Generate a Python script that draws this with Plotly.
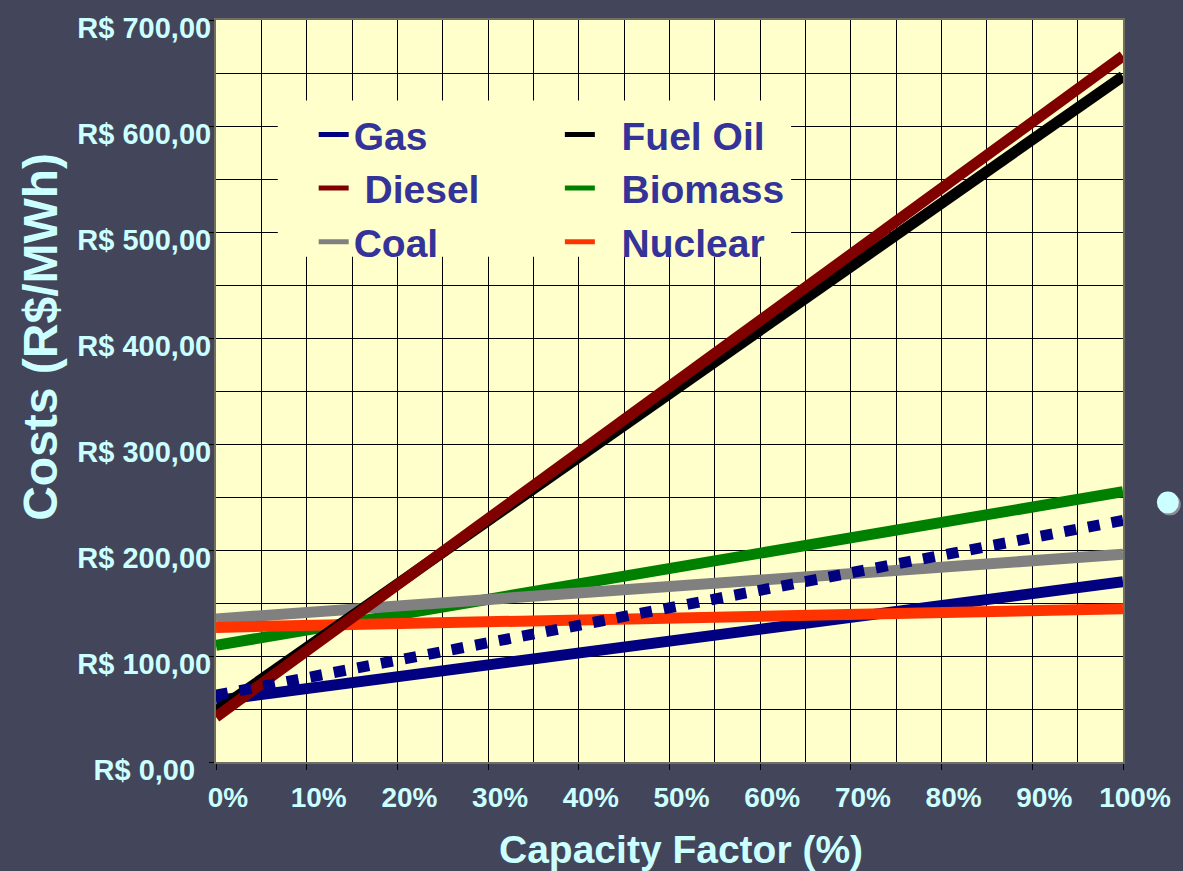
import plotly.graph_objects as go

# Capacity factor (%) at the two ends of each cost line
capacity = [0, 100]

# Generation cost (R$/MWh) at 0% and 100% capacity factor
gas = [58, 170]
gas_dotted = [63, 228]
diesel = [42.5, 666]
fuel_oil = [48, 647]
biomass = [110, 255]
coal = [135, 196]
nuclear = [127, 144.5]

x_ticks = [0, 10, 20, 30, 40, 50, 60, 70, 80, 90, 100]
x_labels = ["0%", "10%", "20%", "30%", "40%", "50%", "60%", "70%", "80%", "90%", "100%"]
y_ticks = [0, 100, 200, 300, 400, 500, 600, 700]
y_labels = ["R$ 0,00\u00a0\u00a0", "R$ 100,00", "R$ 200,00", "R$ 300,00",
            "R$ 400,00", "R$ 500,00", "R$ 600,00", "R$ 700,00"]

W, H = 1183, 871
L, R, T, B = 216, 57, 16, 109
PW, PH = W - L - R, H - T - B


def px(x):
    return (x - L) / PW


def py(y):
    return 1 - (y - T) / PH


BG = "#43455a"
PLOT_BG = "#ffffcc"
AXIS_TEXT = "#ccffff"
LEGEND_TEXT = "#333399"
FONT = "Liberation Sans, Arial, sans-serif"

fig = go.Figure()

# drawn series (stacking order: later traces on top)
series = [
    ("Gas", gas, "#000080", "solid"),
    ("Biomass", biomass, "#008000", "solid"),
    ("Coal", coal, "#808080", "solid"),
    ("Nuclear", nuclear, "#ff3300", "solid"),
    ("Fuel Oil", fuel_oil, "#000000", "solid"),
    ("Diesel", diesel, "#800000", "solid"),
    ("Gas (dotted)", gas_dotted, "#000080", "12px,12px"),
]
for name, vals, color, dash in series:
    fig.add_trace(go.Scatter(
        x=capacity, y=vals, mode="lines", name=name, showlegend=False,
        line=dict(color=color, width=11, dash=dash), hoverinfo="skip"))

# legend entries in two columns
legend_entries = [
    ("Gas", "#000080", "legend"),
    ("\u00a0Diesel", "#800000", "legend"),
    ("Coal", "#808080", "legend"),
    ("\u00a0\u00a0Fuel Oil", "#000000", "legend2"),
    ("\u00a0\u00a0Biomass", "#008000", "legend2"),
    ("\u00a0\u00a0Nuclear", "#ff3300", "legend2"),
]
for name, color, leg in legend_entries:
    fig.add_trace(go.Scatter(
        x=[None], y=[None], mode="lines", name=name, legend=leg,
        line=dict(color=color, width=5)))

legend_style = dict(
    bgcolor="rgba(0,0,0,0)", borderwidth=0, orientation="v",
    font=dict(family=FONT, size=39, color=LEGEND_TEXT, weight="bold"),
    xanchor="left", yanchor="top", y=py(99), tracegroupgap=0,
    traceorder="normal")

fig.update_layout(
    width=W, height=H,
    margin=dict(l=L, r=R, t=T, b=B),
    paper_bgcolor=BG, plot_bgcolor=PLOT_BG,
    font=dict(family=FONT, color=AXIS_TEXT),
    legend=dict(legend_style, x=px(314)),
    legend2=dict(legend_style, x=px(561)),
    xaxis=dict(
        range=[0, 100], tickvals=x_ticks, ticktext=x_labels,
        showgrid=True, gridcolor="#000000", gridwidth=1,
        minor=dict(dtick=5, showgrid=True, gridcolor="#000000", gridwidth=1),
        ticks="outside", ticklen=6, tickcolor="#000000",
        ticklabelshift=12, ticklabelstandoff=3,
        showline=True, linecolor="#6f6f62", linewidth=2, mirror=True,
        zeroline=False,
        tickfont=dict(family=FONT, size=28, color=AXIS_TEXT, weight="bold"),
    ),
    yaxis=dict(
        range=[0, 700], tickvals=y_ticks, ticktext=y_labels,
        showgrid=True, gridcolor="#000000", gridwidth=1,
        minor=dict(dtick=50, showgrid=True, gridcolor="#000000", gridwidth=1),
        ticks="outside", ticklen=5, tickcolor="#000000",
        ticklabelshift=8, ticklabelstandoff=-8,
        showline=True, linecolor="#6f6f62", linewidth=2, mirror=True,
        zeroline=False,
        tickfont=dict(family=FONT, size=29, color=AXIS_TEXT, weight="bold"),
    ),
    shapes=[
        # legend panel covering the grid
        dict(type="rect", xref="paper", yref="paper",
             x0=px(278), x1=px(793), y0=py(254), y1=py(97),
             fillcolor=PLOT_BG, line=dict(width=0), layer="above"),
        # slide bullet with its shadow
        dict(type="circle", xref="paper", yref="paper",
             x0=px(1162), x1=px(1184), y0=py(514), y1=py(492),
             fillcolor="#8c8c96", line=dict(width=0), layer="above"),
        dict(type="circle", xref="paper", yref="paper",
             x0=px(1160), x1=px(1182), y0=py(512), y1=py(490),
             fillcolor="#ccffff", line=dict(width=0), layer="above"),
    ],
    annotations=[
        dict(text="<b>Capacity Factor (%)</b>", xref="paper", yref="paper",
             x=px(683), y=py(850), xanchor="center", yanchor="middle",
             showarrow=False, font=dict(family=FONT, size=39, color=AXIS_TEXT)),
        dict(text="<b>Costs (R$/MWh)</b>", xref="paper", yref="paper",
             x=px(40), y=py(335), xanchor="center", yanchor="middle",
             textangle=-90, showarrow=False,
             font=dict(family=FONT, size=48, color=AXIS_TEXT)),
    ],
)

fig.write_html("out.html")
